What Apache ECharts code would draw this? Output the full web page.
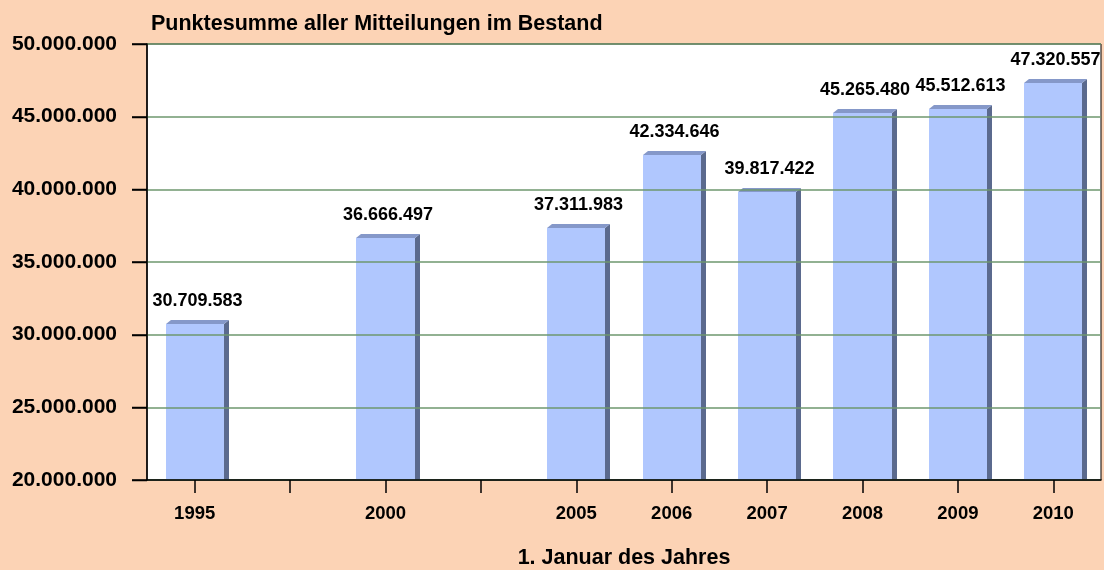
<!DOCTYPE html>
<html>
<head>
<meta charset="utf-8">
<script src="https://cdn.jsdelivr.net/npm/echarts@6/dist/echarts.min.js"></script>
<style>
  html, body { margin: 0; padding: 0; background: #FCD3B5; }
  #chart { width: 1104px; height: 570px; }
</style>
</head>
<body>
<div id="chart"></div>
<script>
// Jahre (leere Kategorien = Lücken auf der Achse)
var years = ['1995', '', '2000', '', '2005', '2006', '2007', '2008', '2009', '2010'];
var punkte = [30709583, null, 36666497, null, 37311983, 42334646, 39817422, 45265480, 45512613, 47320557];
var yTicks = [20000000, 25000000, 30000000, 35000000, 40000000, 45000000, 50000000];

var FONT = "'Liberation Sans', Arial, sans-serif";
var GRID_LEFT = 147;

function fmt(v) {
  return String(v).replace(/\B(?=(\d{3})+(?!\d))/g, '.');
}

var barData = [];
for (var i = 0; i < punkte.length; i++) {
  if (punkte[i] != null) barData.push([i, punkte[i]]);
}

// Säule mit 3D-Seite und Deckfläche
function renderBar(params, api) {
  var idx = api.value(0);
  var val = api.value(1);
  var top = api.coord([idx, val]);
  var bottom = params.coordSys.y + params.coordSys.height;
  var w = api.size([1, 0])[0] * 0.61;
  var x0 = Math.round(top[0] - w / 2);
  var x1 = Math.round(top[0] + w / 2);
  var y = Math.round(top[1]);
  var dx = 5, dy = 4;
  return {
    type: 'group',
    children: [
      {
        type: 'polygon',
        shape: { points: [[x1, y], [x1 + dx, y - dy], [x1 + dx, bottom - 1], [x1, bottom]] },
        style: { fill: '#5B6A8E' }
      },
      {
        type: 'polygon',
        shape: { points: [[x0, y], [x0 + dx, y - dy], [x1 + dx, y - dy], [x1, y]] },
        style: { fill: '#8598C9' }
      },
      {
        type: 'rect',
        shape: { x: x0, y: y, width: x1 - x0, height: bottom - y },
        style: { fill: '#B0C7FE' }
      },
      {
        type: 'text',
        style: {
          x: (x0 + x1 + dx) / 2,
          y: y - dy - 10,
          text: fmt(val),
          align: 'center',
          verticalAlign: 'bottom',
          font: 'bold 18px ' + FONT,
          fill: '#000'
        }
      }
    ]
  };
}

var tickStyle = { color: '#000', width: 1.5 };
var yMin = yTicks[0];
var yMax = yTicks[yTicks.length - 1];
var yStep = yTicks[1] - yTicks[0];

var chart = echarts.init(document.getElementById('chart'));
chart.setOption({
  backgroundColor: '#FCD3B5',
  animation: false,
  title: {
    text: 'Punktesumme aller Mitteilungen im Bestand',
    left: 146,
    top: 8,
    textStyle: { fontFamily: FONT, fontSize: 21.5, fontWeight: 'bold', color: '#000' }
  },
  grid: {
    left: GRID_LEFT,
    right: 3,
    top: 44,
    bottom: 90,
    outerBoundsMode: 'none',
    containLabel: false,
    show: true,
    backgroundColor: '#fff',
    borderColor: '#000',
    borderWidth: 1
  },
  xAxis: {
    type: 'category',
    data: years,
    z: 5,
    name: '1. Januar des Jahres',
    nameLocation: 'middle',
    nameGap: 67,
    nameTextStyle: { fontFamily: FONT, fontSize: 21.5, fontWeight: 'bold', color: '#000' },
    axisLine: { show: true, lineStyle: tickStyle },
    axisTick: { show: true, alignWithLabel: true, interval: 0, length: 13, lineStyle: tickStyle },
    axisLabel: { interval: 0, margin: 24, fontFamily: FONT, fontSize: 18.5, fontWeight: 'bold', color: '#000' }
  },
  yAxis: {
    type: 'value',
    min: yMin,
    max: yMax,
    interval: yStep,
    z: 5,
    axisLine: { show: true, lineStyle: tickStyle },
    axisTick: { show: true, length: 15, lineStyle: tickStyle },
    axisLabel: {
      margin: 30,
      fontFamily: FONT, fontSize: 21, fontWeight: 'bold', color: '#000',
      formatter: fmt
    },
    splitLine: { show: true, lineStyle: { color: '#6E976E', width: 1.5 } }
  },
  series: [{
    type: 'custom',
    renderItem: renderBar,
    data: barData,
    encode: { x: 0, y: 1 },
    clip: false
  }]
});

// Teilstriche links an der Y-Achse (Position über die Achsenskala)
var tickLines = yTicks.map(function (v) {
  var py = Math.round(chart.convertToPixel({ yAxisIndex: 0 }, v)) + 0.5;
  return {
    type: 'line',
    z: 100,
    shape: { x1: GRID_LEFT - 15, y1: py, x2: GRID_LEFT, y2: py },
    style: { stroke: '#000', lineWidth: 1.5 }
  };
});
chart.setOption({ graphic: tickLines });
</script>
</body>
</html>
